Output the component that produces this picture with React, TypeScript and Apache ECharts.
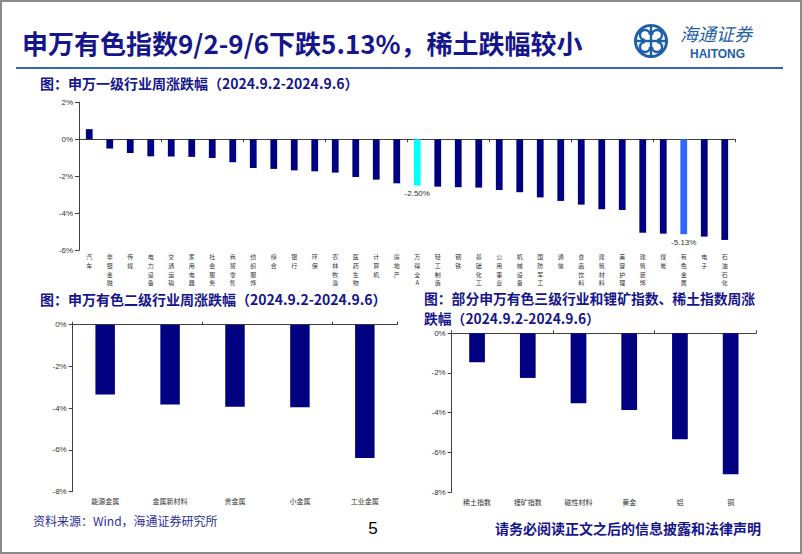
import React, { useEffect, useRef } from "react";
import * as echarts from "echarts";

const topCats = ["汽车","非银金融","传媒","电力设备","交通运输","家用电器","社会服务","商贸零售","纺织服饰","综合","银行","环保","农林牧渔","医药生物","计算机","房地产","万得全A","轻工制造","钢铁","基础化工","公用事业","机械设备","国防军工","通信","食品饮料","建筑材料","美容护理","建筑装饰","煤炭","有色金属","电子","石油石化"];
const topVals = [0.55,-0.50,-0.74,-0.92,-0.93,-0.95,-1.01,-1.24,-1.55,-1.60,-1.68,-1.73,-1.80,-2.04,-2.18,-2.38,-2.50,-2.56,-2.59,-2.61,-2.74,-2.86,-3.14,-3.33,-3.53,-3.78,-3.82,-5.05,-5.10,-5.13,-5.26,-5.44];
const topTicks = [-6, 2, 2]; // min, max, interval

const midCats = ["能源金属","金属新材料","贵金属","小金属","工业金属"];
const midVals = [-3.34,-3.82,-3.93,-3.96,-6.39];

const rightCats = ["稀土指数","锂矿指数","磁性材料","黄金","铝","铜"];
const rightVals = [-1.46,-2.25,-3.53,-3.87,-5.34,-7.11];
const bottomTicks = [-8, 0, 2];

const mainTitle = "申万有色指数9/2-9/6下跌5.13%，稀土跌幅较小";
const sub1 = "图：申万一级行业周涨跌幅（2024.9.2-2024.9.6）";
const sub2 = "图：申万有色二级行业周涨跌幅（2024.9.2-2024.9.6）";
const sub3a = "图：部分申万有色三级行业和锂矿指数、稀土指数周涨";
const sub3b = "跌幅（2024.9.2-2024.9.6）";
const sourceText = "资料来源：Wind，海通证券研究所";
const pageNo = "5";
const disclaimer = "请务必阅读正文之后的信息披露和法律声明";

const NAVY = "#000080";
const CYAN = "#00FFFF";
const MIDBLUE = "#3366FF";
const TITLE = "#16168C";
const LOGO = "#1F5FA8";
const AXIS = "#404040";
const CJK = "'Noto Sans CJK SC', sans-serif";
const LAT = "'Liberation Sans', Arial, sans-serif";

function yAxis(grid: number, min: number, max: number, interval: number) {
  return {
    type: "value",
    gridIndex: grid,
    min,
    max,
    interval,
    axisLine: { show: true, lineStyle: { color: AXIS, width: 1 } },
    axisTick: { show: true, length: 4, lineStyle: { color: AXIS } },
    splitLine: { show: false },
    axisLabel: { formatter: "{value}%", fontSize: 8, color: "#333", fontFamily: LAT, margin: 6 },
  };
}

function tickAxis(grid: number, data: string[], position: string) {
  return {
    type: "category",
    gridIndex: grid,
    data,
    position,
    axisLine: { show: true, onZero: true, lineStyle: { color: AXIS, width: 1 } },
    axisTick: { show: true, length: 3, lineStyle: { color: AXIS } },
    axisLabel: { show: false },
    splitLine: { show: false },
  };
}

function labelAxis(grid: number, data: string[], label: any) {
  return {
    type: "category",
    gridIndex: grid,
    data,
    position: "bottom",
    axisLine: { show: false, onZero: false },
    axisTick: { show: false },
    splitLine: { show: false },
    axisLabel: { interval: 0, color: "#333", fontFamily: CJK, hideOverlap: false, ...label },
  };
}

export default function App() {
  const ref = useRef<HTMLDivElement>(null);
  useEffect(() => {
    if (!ref.current) return;
    const chart = echarts.init(ref.current, undefined, { renderer: "svg" });

    const topData = topVals.map((v, i) => {
      const c = topCats[i];
      if (c === "万得全A" || c === "有色金属") {
        return {
          value: v,
          itemStyle: { color: c === "万得全A" ? CYAN : MIDBLUE },
          label: {
            show: true,
            position: "bottom",
            distance: 4,
            fontSize: 8,
            color: "#333",
            fontFamily: LAT,
            formatter: (p: any) => `${Number(p.value).toFixed(2)}%`,
          },
        };
      }
      return v;
    });

    const t = (text: string, x: number, y: number, style: any) => ({
      type: "text",
      x,
      y,
      silent: true,
      style: { text, textVerticalAlign: "middle", ...style },
    });

    const cx = 651, cy = 41;
    const option: any = {
      animation: false,
      backgroundColor: "#fff",
      grid: [
        { left: 79, top: 102.3, width: 656, height: 148, containLabel: false },
        { left: 72.7, top: 324.7, width: 324.6, height: 167, containLabel: false },
        { left: 451.7, top: 333.3, width: 304.3, height: 158.7, containLabel: false },
      ],
      xAxis: [
        tickAxis(0, topCats, "bottom"),
        labelAxis(0, topCats, {
          fontSize: 6,
          lineHeight: 8.7,
          margin: 2,
          formatter: (v: string) => v.split("").join("\n"),
        }),
        tickAxis(1, midCats, "top"),
        labelAxis(1, midCats, { fontSize: 7, margin: 6 }),
        tickAxis(2, rightCats, "top"),
        labelAxis(2, rightCats, { fontSize: 7, margin: 6 }),
      ],
      yAxis: [
        yAxis(0, topTicks[0], topTicks[1], topTicks[2]),
        yAxis(1, bottomTicks[0], bottomTicks[1], bottomTicks[2]),
        yAxis(2, bottomTicks[0], bottomTicks[1], bottomTicks[2]),
      ],
      series: [
        { type: "bar", xAxisIndex: 0, yAxisIndex: 0, data: topData, barWidth: "33%", itemStyle: { color: NAVY } },
        { type: "bar", xAxisIndex: 2, yAxisIndex: 1, data: midVals, barWidth: "30%", itemStyle: { color: NAVY } },
        { type: "bar", xAxisIndex: 4, yAxisIndex: 2, data: rightVals, barWidth: "31%", itemStyle: { color: NAVY } },
      ],
      graphic: [
        { type: "rect", silent: true, shape: { x: 1, y: 1, width: 800, height: 552 }, style: { fill: "none", stroke: "#8a8a8a", lineWidth: 2 } },
        t(mainTitle, 22, 42, { fill: TITLE, fontSize: 26, fontWeight: "bold", fontFamily: CJK }),
        { type: "rect", silent: true, shape: { x: 16, y: 67, width: 767, height: 2 }, style: { fill: "#2F6AB0" } },
        t(sub1, 40, 83, { fill: TITLE, fontSize: 14, fontWeight: "bold", fontFamily: CJK }),
        t(sub2, 40, 299, { fill: TITLE, fontSize: 14, fontWeight: "bold", fontFamily: CJK }),
        t(sub3a, 424, 297.7, { fill: TITLE, fontSize: 13.8, fontWeight: "bold", fontFamily: CJK }),
        t(sub3b, 424, 317.8, { fill: TITLE, fontSize: 13.8, fontWeight: "bold", fontFamily: CJK }),
        t(sourceText, 33, 520, { fill: "#2E2E9E", fontSize: 12, fontFamily: CJK }),
        t(pageNo, 373, 528, { fill: "#000", fontSize: 17, fontFamily: LAT, textAlign: "center" }),
        t(disclaimer, 495, 528, { fill: TITLE, fontSize: 14, fontWeight: "bold", fontFamily: CJK }),
        // logo
        { type: "ring", silent: true, shape: { cx, cy, r: 17, r0: 14.2 }, style: { fill: LOGO } },
        { type: "arc", silent: true, shape: { cx: cx - 6, cy: cy - 6, r: 5, startAngle: Math.PI * 0.5, endAngle: Math.PI * 2 }, style: { stroke: LOGO, lineWidth: 2.4, fill: "none" } },
        { type: "arc", silent: true, shape: { cx: cx + 6, cy: cy - 6, r: 5, startAngle: Math.PI, endAngle: Math.PI * 2.5 }, style: { stroke: LOGO, lineWidth: 2.4, fill: "none" } },
        { type: "arc", silent: true, shape: { cx: cx + 6, cy: cy + 6, r: 5, startAngle: Math.PI * 1.5, endAngle: Math.PI * 3 }, style: { stroke: LOGO, lineWidth: 2.4, fill: "none" } },
        { type: "arc", silent: true, shape: { cx: cx - 6, cy: cy + 6, r: 5, startAngle: 0, endAngle: Math.PI * 1.5 }, style: { stroke: LOGO, lineWidth: 2.4, fill: "none" } },
        { type: "line", silent: true, shape: { x1: cx, y1: cy - 15, x2: cx, y2: cy + 15 }, style: { stroke: LOGO, lineWidth: 2.4 } },
        { type: "line", silent: true, shape: { x1: cx - 15, y1: cy, x2: cx + 15, y2: cy }, style: { stroke: LOGO, lineWidth: 2.4 } },
        t("海通证券", 680, 33, { fill: LOGO, fontSize: 18, fontStyle: "italic", fontFamily: CJK }),
        t("HAITONG", 690, 54, { fill: LOGO, fontSize: 12, fontWeight: "bold", fontFamily: LAT }),
      ],
    };
    chart.setOption(option);
    return () => chart.dispose();
  }, []);
  return (
    <div
      ref={ref}
      style={{ position: "absolute", left: 0, top: 0, width: 802, height: 554, background: "#fff" }}
    />
  );
}
